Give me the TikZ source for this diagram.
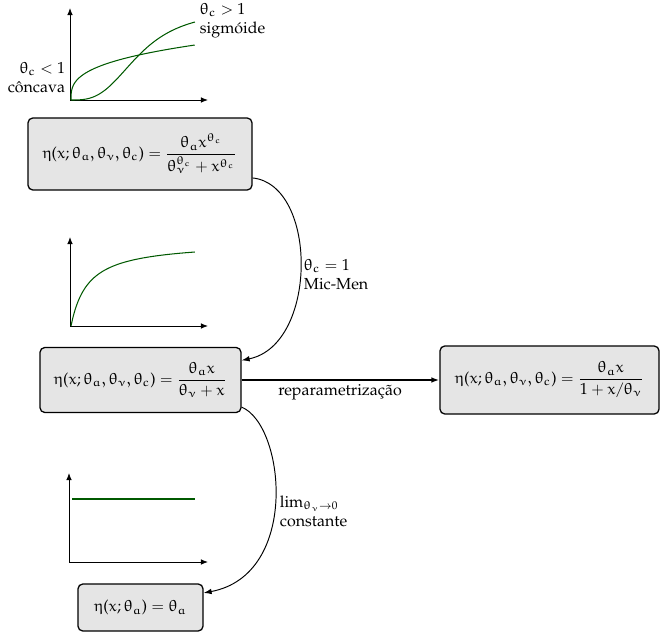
\documentclass[tikz,border=0pt]{standalone}
\usepackage[T1]{fontenc}
\usepackage{palatino}
\usepackage{amsmath}
\DeclareSymbolFont{letters}{U}{eur}{m}{n}
\SetSymbolFont{letters}{bold}{U}{eur}{b}{n}
\DeclareSymbolFont{operators}{T1}{ppl}{m}{n}
\DeclareSymbolFont{cmrops}{OT1}{cmr}{m}{n}
\DeclareMathSymbol{=}{\mathrel}{cmrops}{"3D}
\DeclareMathSymbol{+}{\mathbin}{cmrops}{"2B}
\usetikzlibrary{arrows.meta}
\newdimen\px \px=0.625pt
\tikzset{
  eqbox/.style={draw, fill=black!10, rounded corners=3pt, line width=0.8pt, inner sep=0pt, align=center},
  axisline/.style={-{Latex[length=4.5pt,width=3.5pt]}, line width=0.5pt},
  curveline/.style={green!35!black, line width=0.65pt},
  conn/.style={line width=0.6pt, -{Latex[length=5pt,width=3.5pt]}},
  mainarrow/.style={line width=1pt, -{Latex[length=5pt,width=3.5pt]}},
  lbl/.style={inner sep=1pt, font=\normalsize}
}
\begin{document}
\begin{tikzpicture}[x=0.625pt,y=-0.625pt]
\useasboundingbox (0,0) rectangle (662,632);
% ---- top plot
\draw[axisline] (70,100) -- (70,8);
\draw[axisline] (70,100) -- (208,100);
\draw[curveline] plot[domain=0:1,samples=60,smooth] ({71+124*\x*\x*\x},{100-55*\x});
\draw[curveline] plot[domain=0:1,samples=60,smooth] ({71+124*\x},{100-91.2*\x*\x*\x/(0.1694+\x*\x*\x)});
\node[lbl, anchor=west, align=left] (sig) at (198,20.5) {$\theta_c>1$\\sigm\'oide};
\node[lbl, anchor=east, align=right] (conc) at (67,77.5) {$\theta_c<1$\\c\^oncava};
% ---- middle plot
\draw[axisline] (70,326) -- (70,237);
\draw[axisline] (70,326) -- (208,326);
\draw[curveline] plot[domain=0:1,samples=60,smooth] ({71+124*\x},{326-84.2*\x/(0.138+\x)});
% ---- bottom plot
\draw[axisline] (69,562) -- (69,473);
\draw[axisline] (69,562) -- (208,562);
\draw[green!35!black, line width=1.2pt] (72,499) -- (195,499);
% ---- boxes
\node[eqbox, minimum width=224\px, minimum height=72\px] (b1) at (140,154)
  {$\displaystyle \eta(x;\theta_a,\theta_\nu,\theta_c)=\frac{\theta_a x^{\theta_c}}{\theta_\nu^{\theta_c}+x^{\theta_c}}$};
\node[eqbox, minimum width=201\px, minimum height=65\px] (b2) at (140.5,380)
  {$\displaystyle \eta(x;\theta_a,\theta_\nu,\theta_c)=\frac{\theta_a x}{\theta_\nu+x}$};
\node[eqbox, minimum width=219\px, minimum height=68\px] (b3) at (549.5,380)
  {$\displaystyle \eta(x;\theta_a,\theta_\nu,\theta_c)=\frac{\theta_a x}{1+x/\theta_\nu}$};
\node[eqbox, minimum width=125\px, minimum height=47\px] (b4) at (140.5,607.5)
  {$\eta(x;\theta_a)=\theta_a$};
% ---- connectors
\draw[conn] (b1.-12.1) .. controls (318,185) and (318,345) .. (b2.11);
\draw[conn] (b2.-15.8) .. controls (285,425) and (300,575) .. (b4.13.9);
\draw[mainarrow] (b2.east) -- (b3.west);
% ---- labels
\node[lbl, anchor=west, align=left] (l1) at (302,274.5) {$\theta_c=1$\\Mic-Men};
\node[lbl, anchor=west, align=left] (l2) at (278,511) {$\lim_{\theta_\nu\to 0}$\\constante};
\node[lbl] (l3) at (340,392) {reparametriza\c{c}\~ao};
\end{tikzpicture}
\end{document}
